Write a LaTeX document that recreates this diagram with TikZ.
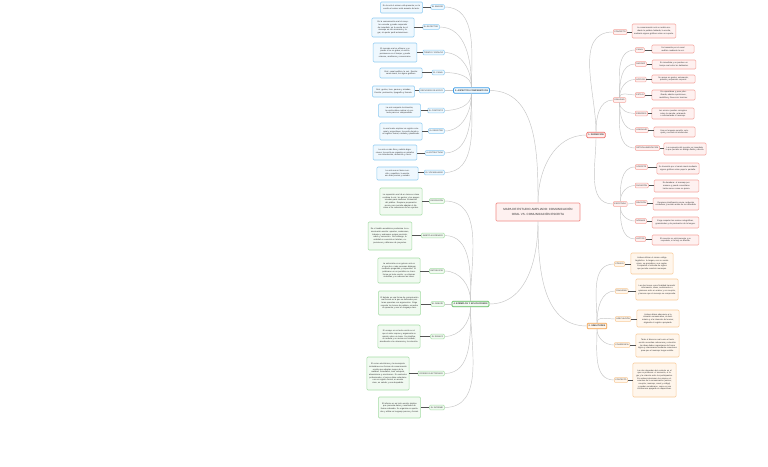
\documentclass[tikz,border=0pt]{standalone}
\usepackage{fontspec}
\setmainfont{Liberation Sans}
\definecolor{blueB}{HTML}{8FCBF2}\definecolor{blueL}{HTML}{EFF8FE}\definecolor{blueM}{HTML}{3F9DE6}
\definecolor{greenB}{HTML}{A6DDA6}\definecolor{greenL}{HTML}{F1FAF1}\definecolor{greenM}{HTML}{5DBB5D}
\definecolor{redB}{HTML}{F5A59E}\definecolor{redL}{HTML}{FEF1F0}\definecolor{redM}{HTML}{EE6E68}
\definecolor{orangeB}{HTML}{F8CA98}\definecolor{orangeL}{HTML}{FFF6EC}\definecolor{orangeM}{HTML}{F3A24F}
\definecolor{lineC}{HTML}{C6C6C6}\definecolor{stubC}{HTML}{555555}\definecolor{txtC}{HTML}{333333}
\tikzset{
 every node/.style={text=txtC},
 tbox/.style={draw=#1B, fill=#1L, line width=0.55pt, rounded corners=1pt, inner xsep=1.8pt, inner ysep=1.2pt, align=center, text width=38.5pt, font=\fontsize{2.05}{2.65}\selectfont},
 lab/.style={draw=#1B, fill=#1L, line width=0.5pt, rounded corners=0.8pt, inner xsep=1.2pt, inner ysep=0.8pt, minimum height=4.6pt, font=\fontsize{2}{2.4}\selectfont},
 mainn/.style={draw=#1M, fill=#1L, line width=0.7pt, rounded corners=1pt, inner xsep=1.5pt, inner ysep=1pt, minimum height=5.5pt, font=\fontsize{2.2}{2.6}\selectfont\bfseries},
 conn/.style={draw=lineC, line width=0.45pt},
 stub/.style={draw=stubC, line width=0.9pt},
}
\begin{document}
\begin{tikzpicture}[x=1pt,y=-1pt]
\fill[white] (0,0) rectangle (768,466);
\useasboundingbox (0,0) rectangle (768,466);

% ---------- center ----------
\node[draw=redM!80, fill=redL, line width=0.7pt, rounded corners=1pt, minimum width=84pt, minimum height=18pt, align=center, font=\fontsize{3}{4.6}\selectfont] (C) at (538,212) {MAPA DE ESTUDIO AMPLIADO: COMUNICACIÓN\\ORAL VS. COMUNICACIÓN ESCRITA};

% ---------- main nodes ----------
\node[mainn=blue] (B) at (471.5,90.5) {3. ASPECTOS COMPARATIVOS};
\node[mainn=green] (G) at (470.5,304) {4. EJEMPLOS Y APLICACIONES};
\node[mainn=red] (R) at (596,135) {1. DEFINICIÓN};
\node[mainn=orange] (O) at (597,326) {2. SIMILITUDES};

\draw[conn] (C.north) to[out=90,in=0] (B.east);
\draw[conn] (C.north) to[out=90,in=180] (R.west);
\draw[conn] (C.south) to[out=270,in=0] (G.east);
\draw[conn] (C.south) to[out=270,in=180] (O.west);

% ---------- blue branch ----------
\node[lab=blue, anchor=east] (b1) at (444.5,7) {EL EMISOR};
\node[tbox=blue, minimum height=11pt] (b1t) at (401.5,7.5) {En la oral el emisor está presente; en la escrita el emisor está ausente del acto.};
\node[lab=blue, anchor=east] (b2) at (439.5,27) {EL RECEPTOR};
\node[tbox=blue, minimum height=19pt] (b2t) at (393,27.5) {En la comunicación oral el receptor escucha y puede responder de inmediato; en la escrita lee el mensaje en otro momento y lugar, sin poder pedir aclaraciones.};
\node[lab=blue, anchor=east] (b3) at (444.5,52.5) {TIEMPO Y ESPACIO};
\node[tbox=blue, minimum height=19pt, text width=40pt] (b3t) at (395,52.5) {El mensaje oral es efímero y se pierde si no se graba; el escrito permanece en el tiempo y puede releerse, analizarse y conservarse.};
\node[lab=blue, anchor=east] (b4) at (444.5,72.5) {EL CANAL};
\node[tbox=blue, minimum height=10pt] (b4t) at (401,73) {Oral: canal auditivo, la voz. Escrita: canal visual, los signos gráficos.};
\node[lab=blue, anchor=east] (b5) at (444.5,90.5) {RECURSOS DE APOYO};
\node[tbox=blue, minimum height=11pt] (b5t) at (393.5,91.5) {Oral: gestos, tono, pausas y miradas. Escrita: puntuación, tipografía y formato.};
\node[lab=blue, anchor=east] (b6) at (444.5,110.5) {EL CONTEXTO};
\node[tbox=blue, minimum height=13pt] (b6t) at (399.5,110.5) {La oral comparte la situación; la escrita debe explicar el contexto para ser comprendida.};
\node[lab=blue, anchor=east] (b7) at (444.5,131) {EL REGISTRO};
\node[tbox=blue, minimum height=17pt] (b7t) at (401,131.5) {La oral suele emplear un registro coloquial y espontáneo; la escrita tiende a un registro formal, cuidado y planificado.};
\node[lab=blue, anchor=east] (b8) at (444.5,153) {LA ESTRUCTURA};
\node[tbox=blue, minimum height=15pt, text width=40pt] (b8t) at (395,152.5) {La oral es más libre y admite digresiones; la escrita se organiza en párrafos con introducción, desarrollo y cierre.};
\node[lab=blue, anchor=east] (b9) at (444.5,172.5) {EL VOCABULARIO};
\node[tbox=blue, minimum height=13pt, text width=37.5pt] (b9t) at (397.5,173.5) {La oral usa un léxico sencillo y repetitivo; la escrita, uno más preciso y variado.};

\foreach \i in {1,...,9} {\draw[stub] (b\i.west) -- (b\i.west -| b\i t.east);}
\foreach \i in {1,2,3,4} {\draw[conn] (b\i.east) to[out=0,in=90] (B.north);}
\draw[conn] (b5.east) -- (B.west);
\foreach \i in {6,7,8,9} {\draw[conn] (b\i.east) to[out=0,in=270] (B.south);}

% ---------- green branch ----------
\node[lab=green, anchor=east] (g1) at (444.5,201) {EXPOSICIÓN};
\node[tbox=green, minimum height=27pt] (g1t) at (401,201.5) {La exposición oral de un tema en clase combina la voz, los gestos y los apoyos visuales para mantener la atención del público. Requiere preparación previa, pero permite adaptar el discurso a las reacciones de los oyentes.};
\node[lab=green, anchor=east] (g2) at (444.5,235.5) {ÁMBITO ACADÉMICO};
\node[tbox=green, minimum height=28pt, text width=40pt] (g2t) at (390,236) {En el ámbito académico predomina la comunicación escrita: apuntes, resúmenes, trabajos y exámenes exigen precisión, orden y corrección. Sin embargo, la oralidad es esencial en tutorías, exposiciones y defensas de proyectos.};
\node[lab=green, anchor=east] (g3) at (444.5,271) {ENTREVISTA};
\node[tbox=green, minimum height=25pt] (g3t) at (399,270.5) {La entrevista es un género oral en el que dos o más personas dialogan mediante preguntas y respuestas. Al publicarse en un periódico se transforma en texto escrito: se eliminan muletillas y se ordenan las ideas.};
\node[lab=green, anchor=east] (g4) at (444.5,304) {EL DEBATE};
\node[tbox=green, minimum height=24pt] (g4t) at (399.5,303) {El debate es una forma de comunicación oral formal en la que se defienden posturas opuestas con argumentos. Exige respetar los turnos de palabra, escuchar al oponente y usar un lenguaje claro.};
\node[lab=green, anchor=east] (g5) at (444.5,336.5) {EL ENSAYO};
\node[tbox=green, minimum height=23pt] (g5t) at (399,336.5) {El ensayo es un texto escrito en el que el autor expone y argumenta su opinión sobre un tema. Se planifica, se redacta y se revisa con cuidado, atendiendo a la coherencia y la cohesión.};
\node[lab=green, anchor=east] (g6) at (444.5,373.5) {CORREO ELECTRÓNICO};
\node[tbox=green, minimum height=33pt] (g6t) at (388,373.5) {El correo electrónico y la mensajería instantánea son formas de comunicación escrita que adoptan rasgos de la oralidad: inmediatez, tono coloquial, abreviaturas y emoticonos. En contextos profesionales, el correo debe redactarse con un registro formal, un asunto claro, un saludo y una despedida.};
\node[lab=green, anchor=east] (g7) at (444.5,407.5) {EL INFORME};
\node[tbox=green, minimum height=21pt] (g7t) at (399.5,407.5) {El informe es un texto escrito objetivo que presenta datos y resultados de forma ordenada. Se organiza en apartados y utiliza un lenguaje preciso y formal.};

\foreach \i in {1,...,7} {\draw[stub] (g\i.west) -- (g\i.west -| g\i t.east);}
\foreach \i in {1,2,3} {\draw[conn] (g\i.east) to[out=0,in=90] (G.north);}
\draw[conn] (g4.east) -- (G.west);
\foreach \i in {5,6,7} {\draw[conn] (g\i.east) to[out=0,in=270] (G.south);}

% ---------- red branch ----------
\node[lab=red, anchor=west] (rc) at (613,32) {CONCEPTO};
\node[tbox=red, minimum height=14pt, text width=40pt] (rct) at (654,31) {La comunicación oral se realiza mediante la palabra hablada; la escrita, mediante signos gráficos sobre un soporte.};
\node[lab=red, anchor=west] (ro) at (613,100) {ORALIDAD};
\node[lab=red, anchor=west] (re) at (613,204) {ESCRITURA};
\draw[stub] (rc.east) -- (rc.east -| rct.west);
\draw[conn] (R.north) to[out=90,in=180] (rc.west);
\draw[conn] (R.north) to[out=90,in=180] (ro.west);
\draw[conn] (R.south) to[out=270,in=180] (re.west);

\node[lab=red, anchor=west] (r1) at (635,50) {CANAL};
\node[tbox=red, minimum height=8pt] (r1t) at (673,49) {Se transmite por el canal auditivo mediante la voz.};
\node[lab=red, anchor=west] (r2) at (635,64) {RAPIDEZ};
\node[tbox=red, minimum height=9pt, text width=40pt] (r2t) at (674,64.5) {Es inmediata y se produce en tiempo real entre los hablantes.};
\node[lab=red, anchor=west] (r3) at (635,79.5) {APOYOS};
\node[tbox=red, minimum height=8pt, text width=39.5pt] (r3t) at (673.5,79) {Se apoya en gestos, entonación, pausas y expresión corporal.};
\node[lab=red, anchor=west] (r4) at (635,95) {ESTILO};
\node[tbox=red, minimum height=10pt, text width=39.5pt] (r4t) at (673.5,95) {Es espontánea y poco planificada; admite repeticiones, muletillas y frases sin terminar.};
\node[lab=red, anchor=west] (r5) at (635,113.5) {ERRORES};
\node[tbox=red, minimum height=11pt] (r5t) at (673,113.5) {Los errores pueden corregirse sobre la marcha, aclarando o reformulando el mensaje.};
\node[lab=red, anchor=west] (r6) at (635,130) {LENGUAJE};
\node[tbox=red, minimum height=10pt, text width=37.5pt] (r6t) at (674.5,132) {Usa un lenguaje sencillo, coloquial y cercano al interlocutor.};
\node[lab=red, anchor=west] (r7) at (635,148) {RETROALIMENTACIÓN};
\node[tbox=red, minimum height=12pt] (r7t) at (685,149) {La respuesta del receptor es inmediata, lo que permite un diálogo fluido y directo.};

\node[lab=red, anchor=west] (r8) at (635,167) {SOPORTE};
\node[tbox=red, minimum height=11pt] (r8t) at (678,168.5) {Se transmite por el canal visual mediante signos gráficos sobre papel o pantalla.};
\node[lab=red, anchor=west] (r9) at (635,185.5) {DURACIÓN};
\node[tbox=red, minimum height=12pt, text width=41pt] (r9t) at (676.5,186) {Es duradera: el mensaje permanece y puede consultarse tantas veces como se quiera.};
\node[lab=red, anchor=west] (r10) at (635,203) {REVISIÓN};
\node[tbox=red, minimum height=12pt, text width=42pt] (r10t) at (676,204) {Requiere planificación previa, redacción cuidadosa y revisión antes de ser difundida.};
\node[lab=red, anchor=west] (r11) at (635,221) {NORMAS};
\node[tbox=red, minimum height=11pt, text width=43pt] (r11t) at (675.5,222.5) {Exige respetar las normas ortográficas, gramaticales y de puntuación de la lengua.};
\node[lab=red, anchor=west] (r12) at (635,239) {LECTOR};
\node[tbox=red, minimum height=10pt, text width=43pt] (r12t) at (675.5,240) {El receptor no está presente y su respuesta, si la hay, es diferida.};

\foreach \i in {1,...,12} {\draw[stub] (r\i.east) -- (r\i.east -| r\i t.west);}
\foreach \i in {1,2,3,4} {\draw[conn] (ro.north) to[out=90,in=180] (r\i.west);}
\foreach \i in {5,6,7} {\draw[conn] (ro.south) to[out=270,in=180] (r\i.west);}
\foreach \i in {8,9} {\draw[conn] (re.north) to[out=90,in=180] (r\i.west);}
\draw[conn] (re.east) -- (r10.west);
\foreach \i in {11,12} {\draw[conn] (re.south) to[out=270,in=180] (r\i.west);}

% ---------- orange branch ----------
\node[lab=orange, anchor=west] (o1) at (614,264) {CÓDIGO};
\node[tbox=orange, minimum height=21pt] (o1t) at (652,263.5) {Ambas utilizan el mismo código lingüístico: la lengua, con su vocabulario, su gramática y sus reglas. Comparten el sistema de signos que permite construir mensajes.};
\node[lab=orange, anchor=west] (o2) at (615,291) {FINALIDAD};
\node[tbox=orange, minimum height=21pt] (o2t) at (657,289.5) {Las dos tienen como finalidad transmitir información, ideas, sentimientos u opiniones entre un emisor y un receptor, y buscan que el mensaje se comprenda.};
\node[lab=orange, anchor=west] (o3) at (615,319) {ADECUACIÓN};
\node[tbox=orange, minimum height=17pt] (o3t) at (658,318.5) {Ambas deben adecuarse a la situación comunicativa, al destinatario y a la intención del emisor, eligiendo el registro apropiado.};
\node[lab=orange, anchor=west] (o4) at (614,345) {COHERENCIA};
\node[tbox=orange, minimum height=23pt, text width=39.5pt] (o4t) at (657.5,345.5) {Tanto el discurso oral como el texto escrito necesitan coherencia y cohesión: las ideas deben organizarse de forma lógica y relacionarse mediante conectores para que el mensaje tenga sentido.};
\node[lab=orange, anchor=west] (o5) at (614,380) {CONTEXTO};
\node[tbox=orange, minimum height=34pt, text width=39.5pt] (o5t) at (654.5,380) {Las dos dependen del contexto en el que se producen: el momento, el lugar y la relación entre los participantes. En ambas intervienen los mismos elementos de la comunicación (emisor, receptor, mensaje, canal y código) y pueden combinarse, como en una conferencia apoyada en diapositivas.};

\foreach \i in {1,...,5} {\draw[stub] (o\i.east) -- (o\i.east -| o\i t.west);}
\foreach \i in {1,2,3} {\draw[conn] (O.north) to[out=90,in=180] (o\i.west);}
\foreach \i in {4,5} {\draw[conn] (O.south) to[out=270,in=180] (o\i.west);}
\end{tikzpicture}
\end{document}
